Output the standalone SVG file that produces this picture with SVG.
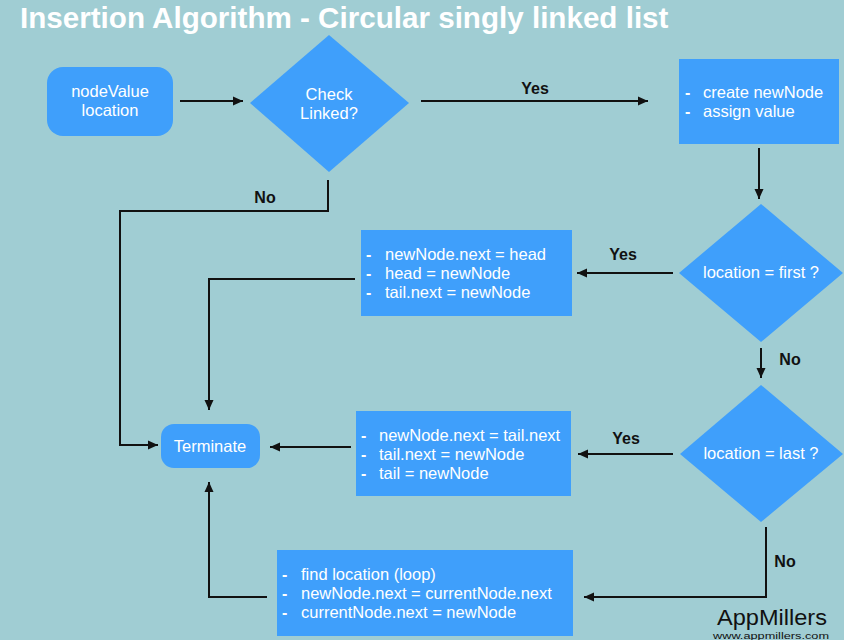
<svg xmlns="http://www.w3.org/2000/svg" width="844" height="640" viewBox="0 0 844 640">
<style>
.bg{fill:#a0cdd3}
.blue{fill:#3f9ffb}
.t{font-family:"Liberation Sans",Arial,sans-serif;font-size:16.5px;fill:#ffffff}
.c{text-anchor:middle}
.d{font-family:"Liberation Sans",Arial,sans-serif;font-size:16px;font-weight:bold;fill:#ffffff}
.lbl{font-family:"Liberation Sans",Arial,sans-serif;font-size:16px;font-weight:bold;fill:#111111;text-anchor:middle}
.title{font-family:"Liberation Sans",Arial,sans-serif;font-size:29.6px;font-weight:bold;fill:#ffffff}
.conn{fill:none;stroke:#111111;stroke-width:2;marker-end:url(#ah)}
</style>
<defs>
<marker id="ah" markerUnits="userSpaceOnUse" markerWidth="11" markerHeight="10" refX="10" refY="5" orient="auto">
<path d="M0,0.5 L10,5 L0,9.5 z" fill="#111111"/>
</marker>
</defs>
<rect class="bg" x="0" y="0" width="844" height="640"/>
<text class="title" x="20" y="28">Insertion Algorithm - Circular singly linked list</text>

<g id="connectors">
<path class="conn" d="M180,101 L243,101"/>
<path class="conn" d="M421,101 L648,101"/>
<path class="conn" d="M759,148 L759,199"/>
<path class="conn" d="M673,273 L577,273"/>
<path class="conn" d="M355,279 L209,279 L209,410"/>
<path class="conn" d="M328,180 L328,211 L120,211 L120,445 L158,445"/>
<path class="conn" d="M761,348 L761,378"/>
<path class="conn" d="M673,454 L578,454"/>
<path class="conn" d="M351,447 L270,447"/>
<path class="conn" d="M766,527 L766,597 L584,597"/>
<path class="conn" d="M267,597 L209,597 L209,482"/>
<text class="lbl" x="265" y="203">No</text>
<text class="lbl" x="535" y="94">Yes</text>
<text class="lbl" x="623" y="260">Yes</text>
<text class="lbl" x="790" y="365">No</text>
<text class="lbl" x="626" y="444">Yes</text>
<text class="lbl" x="785" y="567">No</text>
</g>

<g id="start">
<rect class="blue" x="47" y="67" width="126" height="69" rx="16"/>
<text class="t c" x="110" y="97">nodeValue</text>
<text class="t c" x="110" y="116">location</text>
</g>

<g id="checkLinked">
<path class="blue" d="M329,35 L409,103 L329,172 L250,103 z"/>
<text class="t c" x="329" y="100">Check</text>
<text class="t c" x="329" y="119">Linked?</text>
</g>

<g id="createNode">
<rect class="blue" x="679" y="59" width="160" height="85"/>
<text class="d" x="685" y="98">-</text>
<text class="t" x="703" y="98">create newNode</text>
<text class="d" x="685" y="117">-</text>
<text class="t" x="703" y="117">assign value</text>
</g>

<g id="locationFirst">
<path class="blue" d="M761,204 L843,273 L761,342 L679,273 z"/>
<text class="t c" x="761" y="278">location = first ?</text>
</g>

<g id="insertFirst">
<rect class="blue" x="361" y="230" width="211" height="86"/>
<text class="d" x="366" y="260">-</text>
<text class="t" x="385" y="260">newNode.next = head</text>
<text class="d" x="366" y="279">-</text>
<text class="t" x="385" y="279">head = newNode</text>
<text class="d" x="366" y="298">-</text>
<text class="t" x="385" y="298">tail.next = newNode</text>
</g>

<g id="locationLast">
<path class="blue" d="M761,385 L843,454 L761,522 L680,454 z"/>
<text class="t c" x="761" y="459">location = last ?</text>
</g>

<g id="insertLast">
<rect class="blue" x="356" y="411" width="215" height="85"/>
<text class="d" x="361" y="441">-</text>
<text class="t" x="379" y="441">newNode.next = tail.next</text>
<text class="d" x="361" y="460">-</text>
<text class="t" x="379" y="460">tail.next = newNode</text>
<text class="d" x="361" y="479">-</text>
<text class="t" x="379" y="479">tail = newNode</text>
</g>

<g id="terminate">
<rect class="blue" x="161" y="424" width="99" height="44" rx="13"/>
<text class="t c" x="210" y="452">Terminate</text>
</g>

<g id="insertMiddle">
<rect class="blue" x="277" y="550" width="296" height="86"/>
<text class="d" x="282" y="580">-</text>
<text class="t" x="301" y="580">find location (loop)</text>
<text class="d" x="282" y="599">-</text>
<text class="t" x="301" y="599">newNode.next = currentNode.next</text>
<text class="d" x="282" y="618">-</text>
<text class="t" x="301" y="618">currentNode.next = newNode</text>
</g>

<g id="branding">
<text x="717" y="625" textLength="110" lengthAdjust="spacingAndGlyphs" style="font-family:'Liberation Sans',Arial,sans-serif;font-size:22.5px;fill:#111111">AppMillers</text>
<text x="713" y="638.5" textLength="116" lengthAdjust="spacingAndGlyphs" style="font-family:'Liberation Sans',Arial,sans-serif;font-size:9px;fill:#111111">www.appmillers.com</text>
</g>
</svg>
